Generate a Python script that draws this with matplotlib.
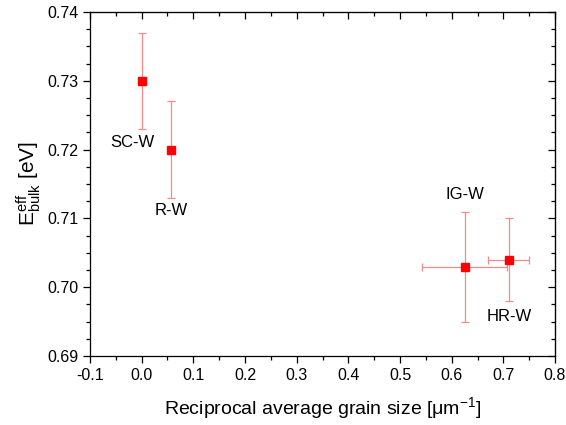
import matplotlib
matplotlib.use("Agg")
import matplotlib.pyplot as plt
from matplotlib.ticker import MultipleLocator

plt.rcParams['font.family'] = ['Liberation Sans', 'DejaVu Sans']
plt.rcParams['mathtext.fontset'] = 'custom'
plt.rcParams['mathtext.rm'] = 'Liberation Sans'
plt.rcParams['mathtext.it'] = 'Liberation Sans'

labels = ['SC-W', 'R-W', 'IG-W', 'HR-W']
x = [0.0, 0.057, 0.625, 0.71]
y = [0.730, 0.720, 0.703, 0.704]
xerr = [0.0, 0.0, 0.082, 0.04]
yerr = [0.007, 0.007, 0.008, 0.006]
label_x = [-0.017, 0.057, 0.626, 0.711]
label_y = [0.7211, 0.7112, 0.7134, 0.6958]

fig = plt.figure(figsize=(5.66, 4.25), dpi=100)
ax = fig.add_axes([0.159, 0.1624, 0.8216, 0.8094])

ax.errorbar(x, y, xerr=xerr, yerr=yerr, fmt='none', ecolor='#f48a8a',
            elinewidth=0.9, capsize=3, capthick=0.9, zorder=2)
ax.plot(x, y, 's', color='#ff0000', markersize=5.5, zorder=3)

for lx, ly, t in zip(label_x, label_y, labels):
    ax.text(lx, ly, t, ha='center', va='center', fontsize=12)

ax.set_xlim(-0.1, 0.8)
ax.set_ylim(0.69, 0.74)
ax.xaxis.set_major_locator(MultipleLocator(0.1))
ax.xaxis.set_minor_locator(MultipleLocator(0.05))
ax.yaxis.set_major_locator(MultipleLocator(0.01))
ax.yaxis.set_minor_locator(MultipleLocator(0.0025))
ax.xaxis.set_major_formatter(plt.FuncFormatter(lambda v, p: f'{v:.1f}'))
ax.yaxis.set_major_formatter(plt.FuncFormatter(lambda v, p: f'{v:.2f}'))

ax.tick_params(which='both', direction='out', labelsize=11.5, width=0.9)
ax.tick_params(which='major', length=5)
ax.tick_params(which='minor', length=3)
for s in ax.spines.values():
    s.set_linewidth(0.9)

# inward ticks on top/right via secondary axes
sx = ax.secondary_xaxis('top')
sx.xaxis.set_major_locator(MultipleLocator(0.1))
sx.xaxis.set_minor_locator(MultipleLocator(0.05))
sx.tick_params(which='both', direction='in', labeltop=False, width=0.9)
sx.tick_params(which='major', length=5)
sx.tick_params(which='minor', length=3)
sy = ax.secondary_yaxis('right')
sy.yaxis.set_major_locator(MultipleLocator(0.01))
sy.yaxis.set_minor_locator(MultipleLocator(0.0025))
sy.tick_params(which='both', direction='in', labelright=False, width=0.9)
sy.tick_params(which='major', length=5)
sy.tick_params(which='minor', length=3)

ax.set_xlabel(r'Reciprocal average grain size [$\mathregular{\mu m^{-1}}$]', fontsize=14, labelpad=9)
ax.set_ylabel(r'$\mathregular{E^{eff}_{bulk}}$ [eV]', fontsize=15, labelpad=3)

fig.savefig('out.png', dpi=100)
